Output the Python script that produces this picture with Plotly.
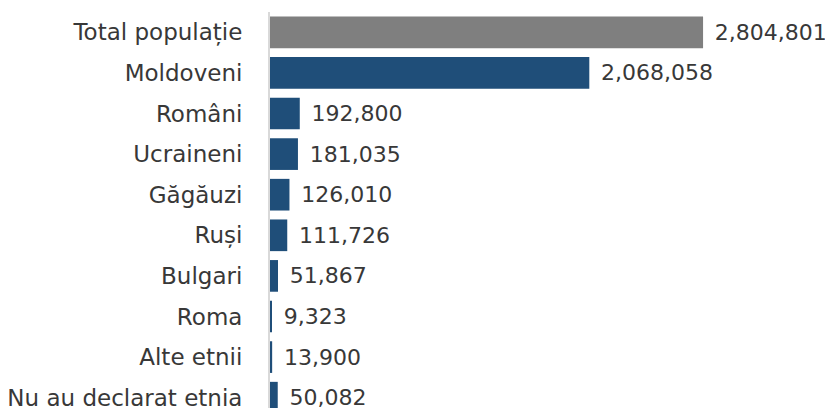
import plotly.graph_objects as go

categories = ["Total populație", "Moldoveni", "Români", "Ucraineni", "Găgăuzi",
              "Ruși", "Bulgari", "Roma", "Alte etnii", "Nu au declarat etnia"]
values = [2804801, 2068058, 192800, 181035, 126010, 111726, 51867, 9323, 13900, 50082]
colors = ["#7f7f7f"] + ["#1f4e79"] * 9

fig = go.Figure(go.Bar(
    y=list(range(len(categories))),
    x=values,
    orientation="h",
    marker=dict(color=colors, line=dict(width=0)),
    width=0.78,
    text=["\u2009\u2009" + f"{v:,}" for v in values],
    textposition="outside",
    cliponaxis=False,
    textfont=dict(family="DejaVu Sans", size=22, color="#383838"),
))

fig.update_layout(
    width=825, height=400,
    margin=dict(l=262, r=0, t=4, b=0, autoexpand=False),
    paper_bgcolor="white", plot_bgcolor="white",
    font=dict(family="DejaVu Sans", color="#383838", size=23),
    showlegend=False,
    xaxis=dict(range=[0, 563 / 154.4e-6], visible=False, fixedrange=True, automargin=False),
    yaxis=dict(
        range=[9.254, -0.5],
        tickmode="array",
        tickvals=list(range(len(categories))),
        ticktext=categories,
        showline=True, linecolor="#d9d9d9", linewidth=2,
        showgrid=False, zeroline=False,
        ticks="", ticklabelstandoff=21,
        ticklabeloverflow="allow",
        automargin=False,
        tickfont=dict(family="DejaVu Sans", size=23, color="#383838"),
    ),
)

fig.write_html("out.html")
